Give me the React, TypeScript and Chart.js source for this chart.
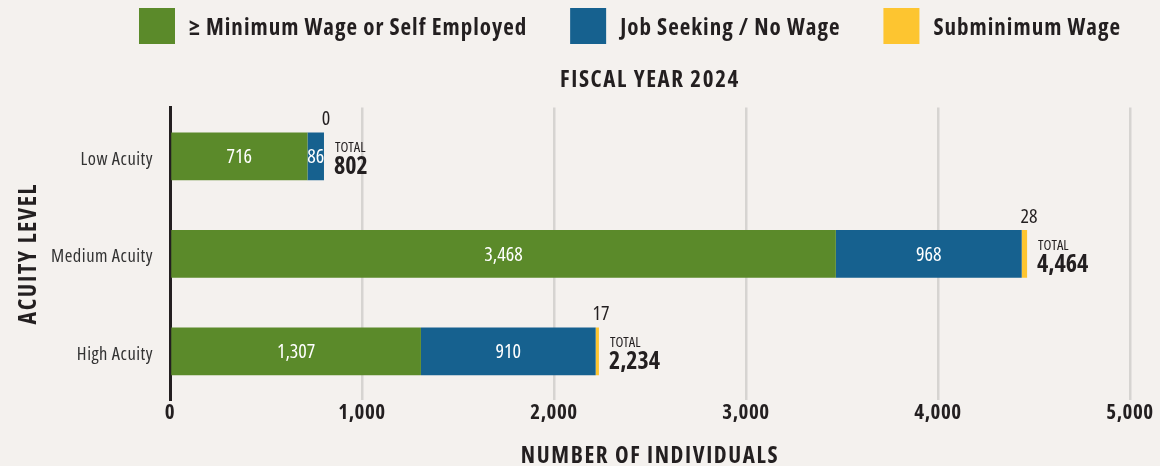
import React, { useEffect, useRef } from "react";
import { Chart, registerables } from "chart.js";

Chart.register(...registerables);

const categories = ["Low Acuity", "Medium Acuity", "High Acuity"];
const seriesNames = ["≥ Minimum Wage or Self Employed", "Job Seeking / No Wage", "Subminimum Wage"];
const minimumWage = [716, 3468, 1307];
const jobSeeking = [86, 968, 910];
const subminimum = [0, 28, 17];
const xMax = 5000;
const xStep = 1000;
const chartTitle = "FISCAL YEAR 2024";
const xTitle = "NUMBER OF INDIVIDUALS";
const yTitle = "ACUITY LEVEL";
const totalLabel = "TOTAL";

const FONT = '"Open Sans", "DejaVu Sans Condensed", sans-serif';
const COND = "condensed";
const COND_BOLD = "condensed bold";
const BG = "#F4F1EE";
const INK = "#231F20";
const COLORS = ["#5B8A2A", "#16618F", "#FDC530"];

const fmt = (v: number) => v.toLocaleString("en-US");

const legendPlugin = {
  id: "customLegend",
  afterDraw(chart: any) {
    const ctx = chart.ctx;
    ctx.save();
    ctx.font = `${COND_BOLD} 23px ${FONT}`;
    ctx.letterSpacing = "1px";
    ctx.textBaseline = "middle";
    ctx.textAlign = "left";
    const box = 36, gapText = 14, gapItem = 43;
    const items = chart.data.datasets.map((ds: any) => ({
      text: ds.label,
      color: ds.backgroundColor,
      w: ctx.measureText(ds.label).width,
    }));
    const total = items.reduce((s: number, it: any, i: number) => s + box + gapText + it.w + (i ? gapItem : 0), 0);
    let x = 630 - total / 2;
    items.forEach((it: any) => {
      ctx.fillStyle = it.color;
      ctx.fillRect(x, 8, box, box);
      ctx.fillStyle = INK;
      ctx.fillText(it.text, x + box + gapText, 28);
      x += box + gapText + it.w + gapItem;
    });
    ctx.restore();
  },
};

const labelPlugin = {
  id: "barLabels",
  beforeDatasetsDraw(chart: any) {
    chart.ctx.letterSpacing = "0px";
  },
  afterDatasetsDraw(chart: any) {
    const ctx = chart.ctx;
    ctx.save();
    ctx.letterSpacing = "0px";
    const n = chart.data.datasets.length;
    chart.data.datasets.forEach((ds: any, di: number) => {
      const meta = chart.getDatasetMeta(di);
      meta.data.forEach((el: any, i: number) => {
        const v = ds.data[i];
        if (di < n - 1) {
          ctx.font = `${COND} 20px ${FONT}`;
          ctx.fillStyle = "#FFFFFF";
          ctx.textAlign = "center";
          ctx.textBaseline = "middle";
          ctx.fillText(fmt(v), (el.x + el.base) / 2, el.y + 1);
        } else {
          ctx.font = `${COND} 20px ${FONT}`;
          ctx.fillStyle = INK;
          ctx.textAlign = "center";
          ctx.textBaseline = "alphabetic";
          ctx.fillText(fmt(v), el.x + 2, el.y - el.height / 2 - 7);
          const tot = chart.data.datasets.reduce((s: number, d: any) => s + d.data[i], 0);
          ctx.textAlign = "left";
          ctx.font = `${COND} 14.5px ${FONT}`;
          ctx.fillText(totalLabel, el.x + 11, el.y - 4);
          ctx.font = `${COND_BOLD} 24px ${FONT}`;
          ctx.fillText(fmt(tot), el.x + 10, el.y + 18);
        }
      });
    });
    ctx.restore();
    // tick labels are drawn after the datasets (ticks.z = 1)
    ctx.letterSpacing = "0.5px";
  },
};

const bgPlugin = {
  id: "bg",
  beforeDraw(chart: any) {
    const ctx = chart.ctx;
    ctx.save();
    ctx.fillStyle = BG;
    ctx.fillRect(0, 0, chart.width, chart.height);
    ctx.restore();
    // chart title and axis titles are drawn before the datasets
    ctx.letterSpacing = "1.6px";
  },
};

export default function App() {
  const ref = useRef<HTMLCanvasElement | null>(null);
  useEffect(() => {
    if (!ref.current) return;
    const values = [minimumWage, jobSeeking, subminimum];
    const chart = new Chart(ref.current, {
      type: "bar",
      data: {
        labels: categories,
        datasets: seriesNames.map((name, i) => ({
          label: name,
          data: values[i],
          backgroundColor: COLORS[i],
          borderWidth: 0,
          categoryPercentage: 1,
          barPercentage: 0.49,
        })),
      },
      options: {
        indexAxis: "y",
        responsive: false,
        animation: false,
        devicePixelRatio: 1,
        layout: { padding: { top: 60, right: 30, bottom: 0, left: 0 } },
        plugins: {
          legend: { display: false },
          tooltip: { enabled: false },
          title: {
            display: true,
            text: chartTitle,
            fullSize: false,
            color: INK,
            font: { family: FONT, size: 23, weight: COND_BOLD, lineHeight: 1.2 },
            padding: { top: 7, bottom: 13 },
          },
        },
        scales: {
          x: {
            stacked: true,
            min: 0,
            max: xMax,
            ticks: {
              z: 1,
              stepSize: xStep,
              color: INK,
              font: { family: FONT, size: 21, weight: COND_BOLD },
              padding: 0,
              callback: (v: any) => fmt(Number(v)),
            },
            grid: {
              drawTicks: false,
              lineWidth: 2.5,
              color: (c: any) => (c.tick && c.tick.value === 0 ? "rgba(0,0,0,0)" : "#D6D4D1"),
            },
            border: { display: false },
            title: {
              display: true,
              text: xTitle,
              color: INK,
              font: { family: FONT, size: 23, weight: COND_BOLD, lineHeight: 0.8 },
              padding: { top: 0, bottom: 0 },
            },
            afterFit: (s: any) => {
              s.height = 66;
            },
          },
          y: {
            stacked: true,
            ticks: {
              z: 1,
              color: "#333333",
              font: { family: FONT, size: 18.5, weight: COND },
              padding: 17,
              labelOffset: 3,
            },
            grid: { display: false, drawTicks: false },
            border: { display: true, color: "#231F20", width: 3 },
            title: {
              display: true,
              text: yTitle,
              color: INK,
              font: { family: FONT, size: 24, weight: COND_BOLD, lineHeight: 1 },
              padding: { top: 17, bottom: 0 },
            },
            afterFit: (s: any) => {
              s.width = 170;
            },
          },
        },
      },
      plugins: [bgPlugin, legendPlugin, labelPlugin],
    } as any);
    return () => chart.destroy();
  }, []);
  return (
    <div style={{ position: "fixed", left: 0, top: 0, width: 1160, height: 466, background: BG }}>
      <canvas ref={ref} width={1160} height={466} style={{ display: "block" }} />
    </div>
  );
}
